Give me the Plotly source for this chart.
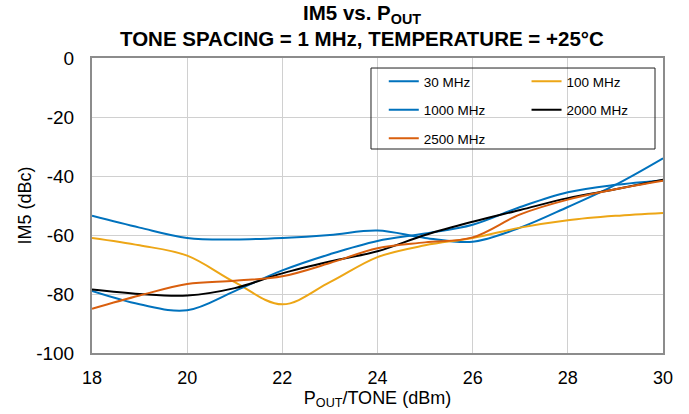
import plotly.graph_objects as go

pout = [18, 19, 20, 21, 22, 23, 24, 25, 26, 27, 28, 29, 30]

im5_30 = [-53.5, -57.5, -61.0, -61.5, -61.0, -60.0, -58.5, -61.0, -62.3, -57.5, -50.5, -43.0, -34.0]
im5_100 = [-61.0, -63.5, -67.0, -76.0, -83.5, -76.0, -67.5, -63.5, -61.0, -57.5, -55.0, -53.5, -52.5]
im5_1000 = [-79.0, -83.5, -85.5, -79.0, -72.0, -66.5, -62.0, -59.5, -56.5, -50.5, -45.5, -43.0, -41.5]
im5_2000 = [-78.5, -80.0, -80.5, -78.0, -73.0, -69.0, -65.5, -60.0, -55.5, -51.5, -47.5, -44.5, -41.3]
im5_2500 = [-85.0, -80.5, -76.6, -75.5, -74.0, -69.5, -64.5, -62.5, -60.8, -53.0, -48.0, -44.5, -41.6]

series = [
    ("30 MHz", im5_30, "#0072BD", "legend"),
    ("100 MHz", im5_100, "#EDA616", "legend2"),
    ("1000 MHz", im5_1000, "#0072BD", "legend"),
    ("2000 MHz", im5_2000, "#000000", "legend2"),
    ("2500 MHz", im5_2500, "#D95F0E", "legend"),
]

x_ticks = [18, 20, 22, 24, 26, 28, 30]
y_ticks = [0, -20, -40, -60, -80, -100]

title_line1 = "<b>IM5 vs. P<sub>OUT</sub></b>"
title_line2 = "<b>TONE SPACING = 1 MHz, TEMPERATURE = +25°C</b>"

FONT = "Liberation Sans"

fig = go.Figure()
for name, vals, color, leg in series:
    fig.add_trace(go.Scatter(
        x=pout, y=vals, name=name, mode="lines",
        line=dict(color=color, width=2, shape="spline", smoothing=1.0),
        legend=leg, legendgroup=name,
    ))

leg_common = dict(
    bgcolor="rgba(0,0,0,0)", borderwidth=0,
    font=dict(family=FONT, size=13.5, color="#000000"),
    xanchor="left", yanchor="top", tracegroupgap=8,
    orientation="v", xref="paper", yref="paper",
)

fig.update_layout(
    width=689, height=414,
    margin=dict(l=92, r=26, t=58, b=61),
    paper_bgcolor="white", plot_bgcolor="white",
    font=dict(family=FONT, size=18, color="#000000"),
    title=dict(
        text=title_line1,
        x=0.473, xref="paper", xanchor="center",
        y=1 - 13 / 414, yref="container", yanchor="middle",
        font=dict(family=FONT, size=20.5, color="#000000"),
    ),
    annotations=[dict(
        text=title_line2, showarrow=False,
        x=0.473, xref="paper", xanchor="center",
        y=1.066, yref="paper", yanchor="middle",
        font=dict(family=FONT, size=20.5, color="#000000"),
    )],
    xaxis=dict(
        range=[18, 30], tickvals=x_ticks, ticktext=[str(v) for v in x_ticks],
        showgrid=True, gridcolor="#D0D0D0", gridwidth=1,
        showline=True, linecolor="#8C8C8C", linewidth=2, mirror=True,
        ticks="", zeroline=False, ticklabelstandoff=7,
        title=dict(text="P<sub>OUT</sub>/TONE (dBm)", standoff=1,
                   font=dict(family=FONT, size=18)),
        tickfont=dict(family=FONT, size=18),
    ),
    yaxis=dict(
        range=[-100, 0], tickvals=y_ticks, ticktext=[str(v) for v in y_ticks],
        showgrid=True, gridcolor="#D0D0D0", gridwidth=1,
        showline=True, linecolor="#8C8C8C", linewidth=2, mirror=True,
        ticks="", zeroline=False, ticklabelstandoff=12,
        title=dict(text="IM5 (dBc)", standoff=0,
                   font=dict(family=FONT, size=18)),
        tickfont=dict(family=FONT, size=19),
    ),
    legend=dict(x=0.511, y=0.973, **leg_common),
    legend2=dict(x=0.761, y=0.973, **leg_common),
    shapes=[dict(
        type="rect", xref="paper", yref="paper",
        x0=0.4886, x1=0.986, y0=0.6915, y1=0.966,
        line=dict(color="#202020", width=1), fillcolor="rgba(0,0,0,0)",
        layer="above",
    )],
    showlegend=True,
)

fig.write_html("out.html")
